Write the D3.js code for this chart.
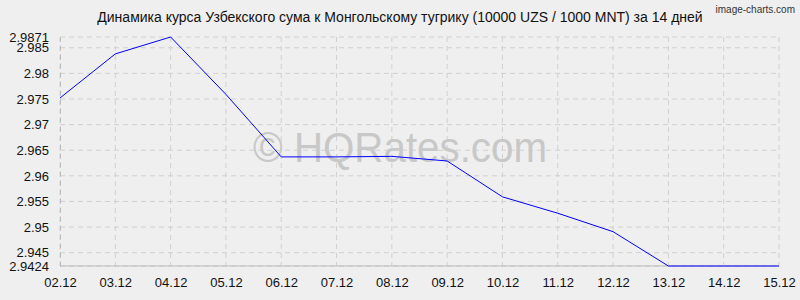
<!DOCTYPE html>
<html lang="ru">
<head>
<meta charset="UTF-8">
<title>UZS/MNT</title>
<style>
    body { margin: 0; background: #efefef; }
    svg { display: block; font-family: "Liberation Sans", Arial, sans-serif; }
    .grid line { stroke: #d0d0d0; stroke-dasharray: 5 4; }
    .tick text { fill: #111; font-size: 13px; }
</style>
</head>
<body>
<svg id="chart"></svg>
<script src="https://cdnjs.cloudflare.com/ajax/libs/d3/7.9.0/d3.min.js"></script>
<script>
    // data
    const dates = ["02.12", "03.12", "04.12", "05.12", "06.12", "07.12", "08.12",
                   "09.12", "10.12", "11.12", "12.12", "13.12", "14.12", "15.12"];
    const rates = [2.9752, 2.9838, 2.9871, 2.9759, 2.9637, 2.9637, 2.9638,
                   2.9629, 2.9559, 2.9527, 2.9491, 2.9424, 2.9424, 2.9424];
    const yTicks = [2.9424, 2.945, 2.95, 2.955, 2.96, 2.965, 2.97, 2.975, 2.98, 2.985, 2.9871];
    const title = "Динамика курса Узбекского сума к Монгольскому тугрику (10000 UZS / 1000 MNT) за 14 дней";

    const w = 800, h = 300;
    const mLeft = 60, mRight = 779, mTop = 37, mBottom = 266;

    const svg = d3.select("#chart").attr("width", w).attr("height", h);

    const x = d3.scalePoint().domain(dates).range([mLeft, mRight]);
    const y = d3.scaleLinear().domain([2.9424, 2.9871]).range([mBottom, mTop]);

    // grid
    const grid = svg.append("g").attr("class", "grid");
    grid.selectAll(".vx").data(dates).enter().append("line")
        .attr("x1", d => x(d)).attr("x2", d => x(d))
        .attr("y1", mTop).attr("y2", mBottom);
    grid.selectAll(".hy").data(yTicks).enter().append("line")
        .attr("x1", mLeft).attr("x2", mRight)
        .attr("y1", d => y(d)).attr("y2", d => y(d));

    // watermark
    svg.append("text")
        .attr("x", 253).attr("y", 162)
        .attr("font-size", 42)
        .attr("textLength", 294)
        .attr("lengthAdjust", "spacingAndGlyphs")
        .attr("fill", "#c8c8c8")
        .text("© HQRates.com");

    // axes
    const xAxis = svg.append("g")
        .attr("transform", "translate(0," + mBottom + ")")
        .call(d3.axisBottom(x).tickSize(0).tickPadding(12));
    xAxis.select(".domain").attr("stroke", "#bbb").attr("d", "M" + mLeft + ",0H" + mRight);

    const yAxis = svg.append("g")
        .attr("transform", "translate(" + mLeft + ",0)")
        .call(d3.axisLeft(y).tickValues(yTicks).tickSize(0).tickPadding(11)
            .tickFormat(d => String(d)));
    yAxis.select(".domain").attr("stroke", "#bbb").attr("stroke-dasharray", "5 4");

    // line
    svg.append("path")
        .datum(rates)
        .attr("fill", "none")
        .attr("stroke", "#0000ff")
        .attr("stroke-width", 1)
        .attr("d", d3.line().x((d, i) => x(dates[i])).y(d => y(d)));

    // title
    svg.append("text")
        .attr("x", 400).attr("y", 22)
        .attr("text-anchor", "middle")
        .attr("font-size", 14)
        .attr("fill", "#111")
        .text(title);

    svg.append("text")
        .attr("x", 795).attr("y", 13)
        .attr("text-anchor", "end")
        .attr("font-size", 10)
        .attr("fill", "#333")
        .text("image-charts.com");
</script>
</body>
</html>
